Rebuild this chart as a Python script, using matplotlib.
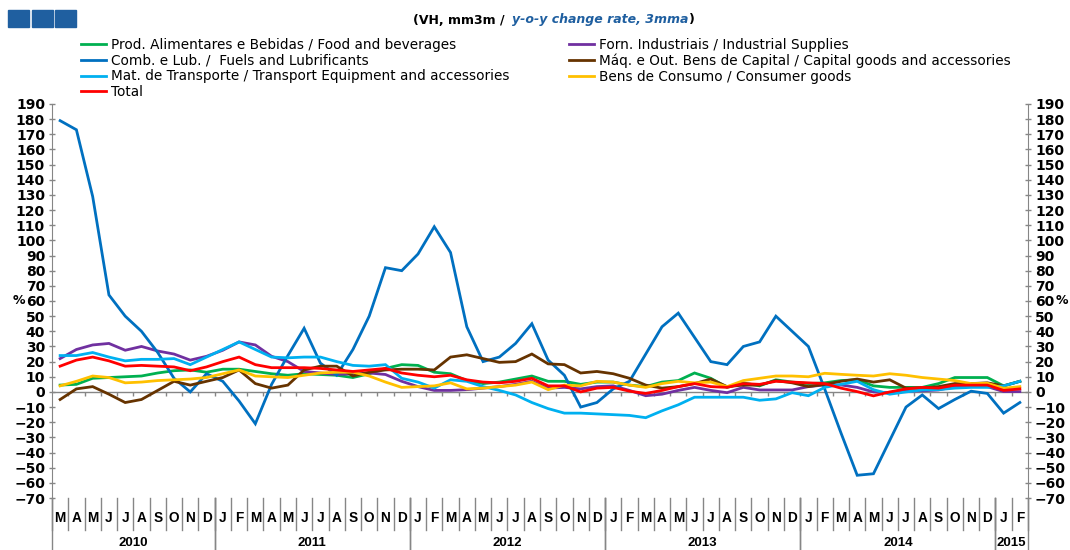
import matplotlib
matplotlib.use('Agg')
import matplotlib.pyplot as plt
from matplotlib.patches import Rectangle
import numpy as np

plt.rcParams['font.family'] = ['DejaVu Sans']

# months from Mar 2010 to Feb 2015
months = list('MAMJJASOND') + list('JFMAMJJASOND') * 4 + list('JF')
years = [2010] * 10 + [2011] * 12 + [2012] * 12 + [2013] * 12 + [2014] * 12 + [2015] * 2

food = [4.5, 5, 9, 9.5, 10, 10.5, 12.5, 14, 14.5, 13,
        15, 15, 13.5, 12, 11, 12, 11.5, 11, 9.5, 12, 15.5, 18,
        17.5, 13, 12, 7.5, 5.5, 6.5, 8.5, 10.5, 7, 7, 5, 6.5,
        6.5, 4.5, 3.5, 6.5, 7.5, 12.5, 9, 3, 6, 4, 8, 6.5,
        5.5, 6, 7.5, 8, 4, 3, 3, 3, 5.5, 9.5, 9.5, 9.5,
        4, 7]
fuels = [179, 173, 129, 64, 50, 40, 26, 9, 0, 12,
         7, -6, -21, 5, 24, 42, 19, 11, 28, 50, 82, 80,
         91, 109, 92, 43, 20, 23, 32, 45, 21, 11, -10, -7,
         2, 7, 25, 43, 52, 36, 20, 18, 30, 33, 50, 40,
         30, 2, -27, -55, -54, -32, -10, -2, -11, -5, 0.5, -1,
         -14, -7]
transport = [24, 24, 26, 23, 20.5, 21.5, 21.5, 22, 18, 23,
             28, 33, 28, 23, 22.5, 23, 23, 20, 17.5, 17, 18, 9,
             6.5, 2.5, 8, 7, 3.5, 1, -2, -7, -11, -14, -14, -14.5,
             -15, -15.5, -17, -12.5, -8.5, -3.5, -3.5, -3.5, -3.5, -5.5, -4.6, -0.5,
             -2.5, 3, 5, 7, 1.5, -1.5, 0, 1.3, 1.5, 2.5, 3, 3,
             4, 7]
total = [17, 21, 23, 20.5, 17, 17.5, 17, 16.5, 14, 16.5,
         20, 23, 18, 16, 16, 16, 15.5, 14.5, 13.5, 14.5, 15.5, 12.5,
         11, 10, 11, 8, 6.5, 6, 7, 9, 4, 4, 0, 2.5,
         3, 0.5, -1, 1, 3.5, 5.5, 3.5, 3, 5.5, 5, 7, 6.5,
         6, 5.5, 2.5, 0.2, -2.6, 0, 2, 3, 2.5, 4.5, 4.5, 4.5,
         1, 2]
industrial = [22, 28, 31, 32, 27.5, 30, 27, 25, 21, 23.5,
              27.5, 33, 31, 23.5, 20, 13.5, 12.5, 11.5, 12, 12.5, 11.5, 7,
              3.5, 1, 1, 1.5, 2.5, 3.5, 5, 7, 2.5, 3, 2, 3.5,
              4, 1, -2.5, -1.5, 1, 3, 1, -0.5, 3, 1.3, 1.3, 1.3,
              3.5, 4.6, 4.6, 3, 0, -0.5, 0.5, 0.7, 1.3, 3.5, 4, 3.5,
              0.2, 0.2]
capital = [-5, 2, 3.5, -1.5, -7, -5, 1, 7, 4.5, 7,
           9.5, 14.5, 5.5, 2.5, 4.5, 14.5, 17, 17, 10.5, 13, 14.5, 15,
           15, 14.5, 23, 24.5, 22, 19.5, 20, 25, 18.5, 18, 12.5, 13.5,
           12, 9, 4.5, 2.5, 3.5, 5.5, 8.5, 3.5, 4.5, 4.5, 7.5, 6,
           3.5, 5, 7, 8.5, 6.5, 8, 2.5, 2.5, 3.5, 5.5, 5.5, 6,
           4, 7]
consumer = [4, 7, 10.5, 9.5, 6, 6.5, 7.5, 8, 8.5, 9.5,
            12, 14.5, 10.5, 10, 9.5, 11, 12.5, 13, 13, 10.5, 6.5, 3,
            3.5, 4, 6, 2, 2.5, 3.5, 4.5, 6.5, 1.5, 4.5, 4, 7,
            6.5, 4.5, 3, 5.5, 7, 6, 6.5, 3.5, 7.5, 9, 10.5, 10.5,
            10, 12.3, 11.6, 11, 10.5, 12, 11, 9.5, 8.5, 7.5, 5.5, 5.7,
            2.4, 3.5]

series = [
    (food, '#00B050', 'Prod. Alimentares e Bebidas / Food and beverages'),
    (industrial, '#7030A0', 'Forn. Industriais / Industrial Supplies'),
    (fuels, '#0070C0', 'Comb. e Lub. /  Fuels and Lubrificants'),
    (capital, '#663300', 'Máq. e Out. Bens de Capital / Capital goods and accessories'),
    (transport, '#00B0F0', 'Mat. de Transporte / Transport Equipment and accessories'),
    (consumer, '#FFC000', 'Bens de Consumo / Consumer goods'),
    (total, '#FF0000', 'Total'),
]

W, H = 1070, 550
grey = '#868686'
fig = plt.figure(figsize=(W / 100, H / 100), dpi=100)
ax = fig.add_axes([52 / W, 1 - 498 / H, 976 / W, 394 / H])

x = np.arange(len(months))
lines = {}
for vals, col, lab in series:
    lines[lab], = ax.plot(x, vals, color=col, lw=2.0, label=lab, solid_joinstyle='miter')

ax.set_xlim(-0.5, len(months) - 0.5)
ax.set_ylim(-70, 190)
ax.set_yticks(np.arange(-70, 191, 10))
ax.set_xticks([])
for s in ['top', 'bottom']:
    ax.spines[s].set_visible(False)
for s in ['left', 'right']:
    ax.spines[s].set_color(grey)
ax.tick_params(axis='y', direction='inout', length=5, width=1, color=grey,
               labelsize=10, right=True, labelright=True, pad=2.5)
for t in ax.yaxis.get_major_ticks():
    t.label1.set_fontweight('bold')
    t.label2.set_fontweight('bold')

# zero line with category ticks
ax.axhline(0, color=grey, lw=1, zorder=1)
bounds = np.arange(0.5, len(months) - 1, 1.0)
ax.vlines(bounds, -3, 0, color=grey, lw=1, zorder=1)

# category axis below the plot
tr = ax.get_xaxis_transform()
for i, m in enumerate(months):
    ax.text(i, -0.051, m, transform=tr, ha='center', va='center',
            fontsize=9.8, fontweight='bold', family='Liberation Sans')
    ax.plot([i - 0.5, i - 0.5], [0, -0.081], transform=tr, color=grey,
            lw=1, clip_on=False)
ax.plot([len(months) - 0.5] * 2, [0, -0.081], transform=tr, color=grey, lw=1, clip_on=False)

years = np.array(years)
for yr in np.unique(years):
    idx = np.where(years == yr)[0]
    lo, hi = idx[0] - 0.5, idx[-1] + 0.5
    ax.text((lo + hi) / 2, -0.114, str(yr), transform=tr, ha='center', va='center',
            fontsize=9.5, fontweight='bold', family='Liberation Sans')
    for xb in (lo, hi):
        ax.plot([xb, xb], [0, -0.14], transform=tr, color=grey, lw=1, clip_on=False)

# % markers
ax.text(-0.034, 60, '%', transform=ax.get_yaxis_transform(), ha='center', va='center',
        fontsize=9, fontweight='bold')
ax.text(1.0285, 60, '%', transform=ax.get_yaxis_transform(), ha='left', va='center',
        fontsize=9, fontweight='bold')

# legends (two columns)
col1 = [series[0][2], series[2][2], series[4][2], series[6][2]]
col2 = [series[1][2], series[3][2], series[5][2]]
for labs, xpos in ((col1, 81), (col2, 569)):
    fig.legend([lines[l] for l in labs], labs, loc='upper left',
               bbox_to_anchor=(xpos / W, 1 - 38 / H), frameon=False, fontsize=9.8,
               handlelength=1.85, handletextpad=0.35, labelspacing=0.12, borderpad=0,
               borderaxespad=0)

# header: blue squares and subtitle
for k in range(3):
    fig.patches.append(Rectangle(((8 + 23.5 * k) / W, 1 - 27 / H), 21 / W, 17 / H,
                                 transform=fig.transFigure, color='#1F5FA0'))
yt = 1 - 20 / H
t1 = fig.text(509 / W, yt, '(VH, mm3m / ', ha='right', va='center', fontsize=9, fontweight='bold')
t2 = fig.text(512 / W, yt, 'y-o-y change rate, 3mma', ha='left', va='center', fontsize=9,
              fontweight='bold', style='italic', color='#1F5FA0')
fig.canvas.draw()
bb = t2.get_window_extent()
fig.text(bb.x1 / W + 1 / W, yt, ')', ha='left', va='center', fontsize=9, fontweight='bold')

fig.savefig('out.png', dpi=100)
